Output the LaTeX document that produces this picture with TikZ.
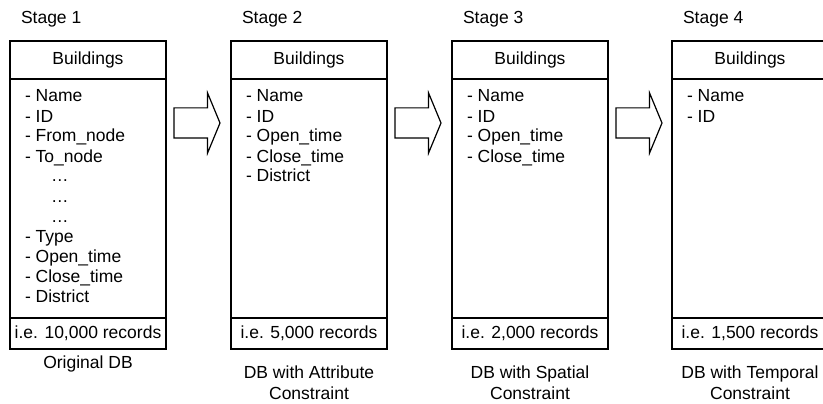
\documentclass[tikz,border=0pt]{standalone}
\usepackage{fontspec}
\setmainfont{Liberation Sans}
\usetikzlibrary{shapes.arrows}
\newcommand\skipdots{\hspace*{26pt}\dots}
\begin{document}
\begin{tikzpicture}[x=1pt,y=-1pt,line width=1.2pt,
  every node/.style={font=\fontsize{17.5}{21}\selectfont,inner sep=0pt,outer sep=0pt},
  cell/.style={draw,minimum width=156pt,anchor=north},
  stagearrow/.style={draw,single arrow,inner ysep=14.5pt,minimum height=46pt,
    single arrow head extend=15pt,single arrow tip angle=135,anchor=tail}]
\useasboundingbox (0,0) rectangle (823,404);
\foreach \x/\c/\r/\items/\cap[count=\i] in {
 10/355.5/{10,000}/{- Name,- ID,- From\_node,- To\_node,\skipdots,\skipdots,\skipdots,- Type,- Open\_time,- Close\_time,- District}/Original DB,
 231/365.5/{5,000}/{- Name,- ID,- Open\_time,- Close\_time,- District}/DB with Attribute\\Constraint,
 452/365.5/{2,000}/{- Name,- ID,- Open\_time,- Close\_time}/DB with Spatial\\Constraint,
 672/365.5/{1,500}/{- Name,- ID}/DB with Temporal\\Constraint
}{
\node at(\x+78,41)[cell,minimum height=38pt](h\i){Buildings}
    node at(h\i.south)[cell,minimum height=239pt](b\i){}
    node at(b\i.south)[cell,minimum height=31pt](f\i){i.e. \r\ records}
    node at(\x+11,24)[anchor=base west](s\i){Stage \i}
    node at(\x+78,\c)[anchor=north,align=center](c\i){\cap};
\foreach \t[count=\k] in \items
  \node at(\x+15,82+20*\k)[anchor=base west](t\i-\k){\t};
}
% arrows between the stages
\foreach \i in {1,2,3}
  \node at([xshift=8pt,yshift=-44pt]h\i.south east)[stagearrow](a\i){};
\end{tikzpicture}
\end{document}
